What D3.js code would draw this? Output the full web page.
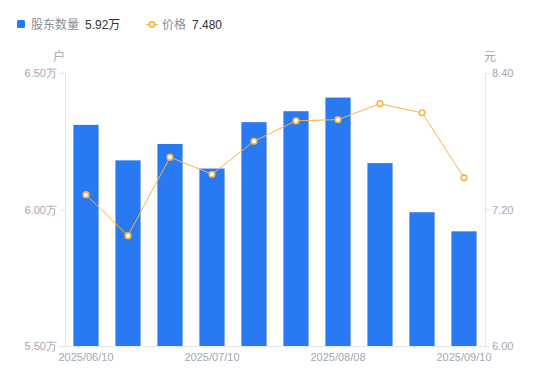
<!DOCTYPE html>
<html><head><meta charset="utf-8">
<script src="https://cdn.jsdelivr.net/npm/d3@7/dist/d3.min.js"></script>
<style>
html,body{margin:0;padding:0;background:#fff;}
svg{display:block;font-family:"Liberation Sans","Noto Sans CJK SC",sans-serif;}
</style></head><body>
<svg id="c" width="550" height="381"></svg>
<script>
const dates = ["2025/06/10","2025/06/20","2025/06/30","2025/07/10","2025/07/20","2025/07/31","2025/08/08","2025/08/20","2025/08/31","2025/09/10"];
const holders = [6.31,6.18,6.24,6.15,6.32,6.36,6.41,6.17,5.99,5.92];
const prices = [7.33,6.97,7.66,7.51,7.80,7.98,7.99,8.13,8.05,7.48];
const leftTicks = [5.5,6.0,6.5];
const rightTicks = [6.0,7.2,8.4];
const shownDates = ["2025/06/10","2025/07/10","2025/08/08","2025/09/10"];

const svg = d3.select("#c");
const L = 65, R = 485, T = 73, B = 346;
const x = d3.scaleBand().domain(dates).range([L,R]).paddingInner(0.4).paddingOuter(0.2);
const yL = d3.scaleLinear().domain([5.5,6.5]).range([B,T]);
const yR = d3.scaleLinear().domain([6.0,8.4]).range([B,T]);
const grey = "#e3e5ea", txt = "#a3a7b3";

// axes
const axL = svg.append("g").attr("transform",`translate(${L},0)`)
  .call(d3.axisLeft(yL).tickValues(leftTicks).tickSize(6).tickPadding(2).tickFormat(d=>d.toFixed(2)+"万"));
const axR = svg.append("g").attr("transform",`translate(${R},0)`)
  .call(d3.axisRight(yR).tickValues(rightTicks).tickSize(5).tickPadding(2).tickFormat(d=>d.toFixed(2)));
const axB = svg.append("g").attr("transform",`translate(0,${B})`)
  .call(d3.axisBottom(x).tickValues(shownDates).tickSize(0).tickPadding(7));
[axL,axR,axB].forEach(a=>{
  a.selectAll("path").attr("stroke",grey);
  a.selectAll("line").attr("stroke",grey);
  a.selectAll("text").attr("fill",txt).style("font-size","11px");
});
axL.selectAll(".tick text").attr("dy","0.35em");
axB.select("path").attr("d",`M${L},0.5H${R}`);

// unit labels
svg.append("text").attr("x",59).attr("y",61).attr("text-anchor","middle").attr("fill",txt).style("font-size","12px").text("户");
svg.append("text").attr("x",490).attr("y",61).attr("text-anchor","middle").attr("fill",txt).style("font-size","12px").text("元");

// bars
svg.append("g").selectAll("rect").data(holders).join("rect")
  .attr("x",(d,i)=>x(dates[i])).attr("width",x.bandwidth())
  .attr("y",d=>yL(d)).attr("height",d=>B-yL(d))
  .attr("fill","#2979f2");

// line
const line = d3.line().x((d,i)=>x(dates[i])+x.bandwidth()/2).y(d=>yR(d));
svg.append("path").datum(prices).attr("d",line).attr("fill","none").attr("stroke","#f7b543").attr("stroke-width",1);
svg.append("g").selectAll("circle").data(prices).join("circle")
  .attr("cx",(d,i)=>x(dates[i])+x.bandwidth()/2).attr("cy",d=>yR(d)).attr("r",2.8)
  .attr("fill","#fff").attr("stroke","#f7b543").attr("stroke-width",1.6);

// legend
svg.append("rect").attr("x",17).attr("y",20).attr("width",8).attr("height",8).attr("rx",1.5).attr("fill","#2979f2");
svg.append("text").attr("x",31).attr("y",29).attr("fill","#8a8e99").style("font-size","12px").text("股东数量");
svg.append("text").attr("x",85).attr("y",29).attr("fill","#333").style("font-size","12px").text("5.92万");
svg.append("line").attr("x1",146).attr("x2",158).attr("y1",24.5).attr("y2",24.5).attr("stroke","#f7b543").attr("stroke-width",1.5);
svg.append("circle").attr("cx",152).attr("cy",24.5).attr("r",2.6).attr("fill","#fff").attr("stroke","#f7b543").attr("stroke-width",1.6);
svg.append("text").attr("x",162).attr("y",29).attr("fill","#8a8e99").style("font-size","12px").text("价格");
svg.append("text").attr("x",192).attr("y",29).attr("fill","#333").style("font-size","12px").text("7.480");
</script></body></html>
